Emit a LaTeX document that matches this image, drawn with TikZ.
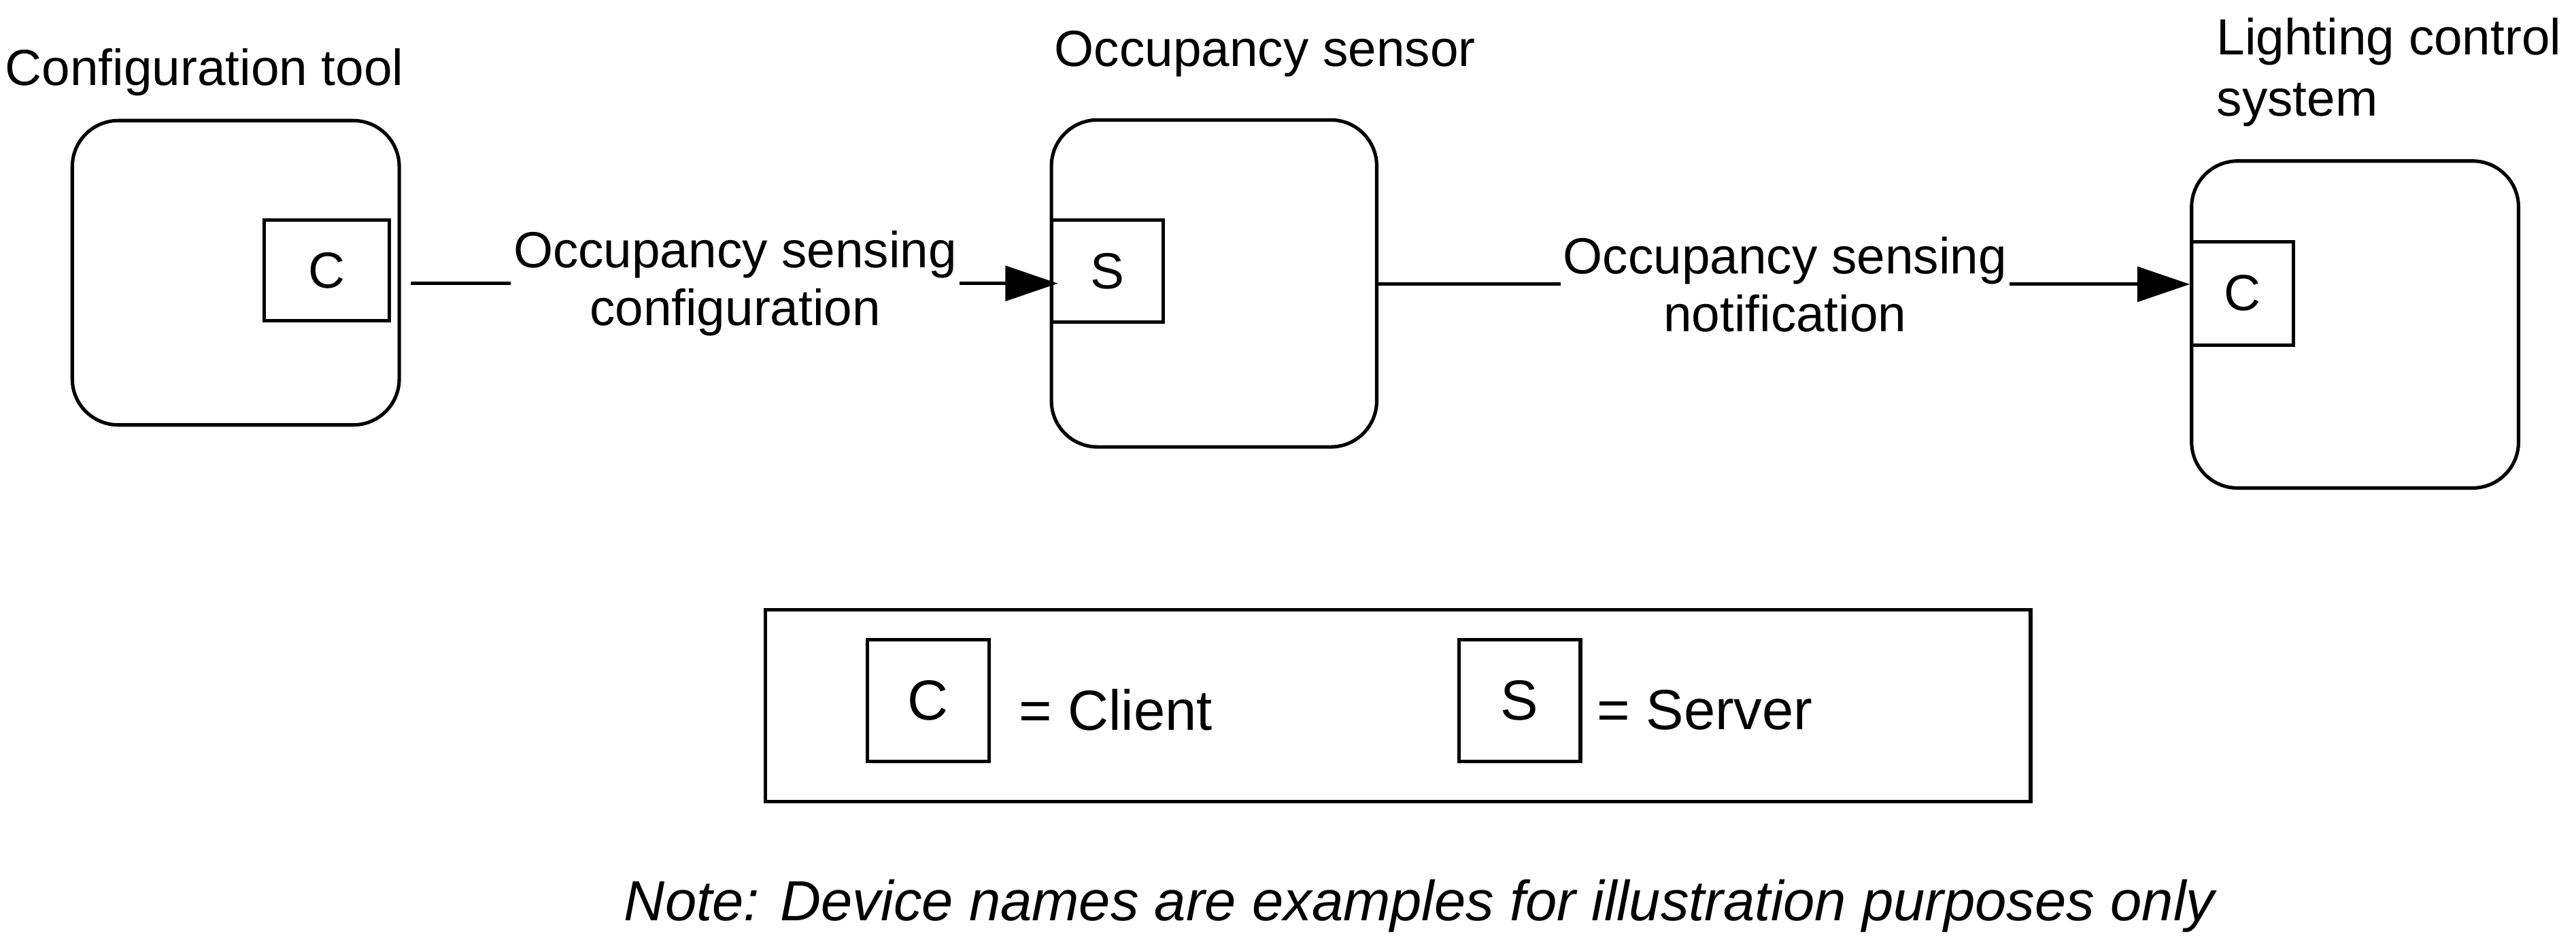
\documentclass[tikz,border=0pt]{standalone}
\usepackage{fontspec}
\setmainfont{Liberation Sans}
\usetikzlibrary{arrows.meta}

\tikzset{
  device/.style={draw, line width=1.5pt, rounded corners=0.7cm, inner sep=0pt},
  port/.style={draw, line width=1.5pt, inner sep=0pt},
  link/.style={line width=1.5pt},
  linkarrow/.style={line width=1.5pt, -{Triangle[length=0.8cm, width=0.53cm]}},
  flowlabel/.style={align=center, inner sep=1pt},
  legendtext/.style={font=\fontsize{24.5}{28}\selectfont},
}

\begin{document}
\begin{tikzpicture}[font=\fontsize{22}{25}\selectfont]
\useasboundingbox (0,0) rectangle (39.2,14.3);
\def\ly{9.9875} % Hoehe der Verbindungslinien

% =========================================================
% Geraete
% =========================================================
\node[device, minimum width=4.975cm, minimum height=4.63cm] (tool) at (3.5875,10.15) {};
\node[port, minimum width=1.9cm, minimum height=1.525cm] (toolc) at (4.975,10.1875) {C};
\node[anchor=west, inner sep=0pt] (tooltitle) at (0.075,13.2) {Configuration tool};

\node[device, minimum width=4.95cm, minimum height=4.975cm] (sensor) at (18.475,9.9875) {};
\node[port, minimum width=1.7cm, minimum height=1.55cm] (sensors) at (16.85,10.175) {S};
\node[inner sep=0pt] (sensortitle) at (19.25,13.48) {Occupancy sensor};

\node[device, minimum width=4.975cm, minimum height=4.975cm] (lcs) at (35.8375,9.3625) {};
\node[port, minimum width=1.55cm, minimum height=1.575cm] (lcsc) at (34.125,9.8375) {C};
\node[anchor=west, align=left, inner sep=0pt, font=\fontsize{22}{26.5}\selectfont] (lcstitle) at (33.725,13.2) {Lighting control\\system};

% =========================================================
% Verbindungen
% =========================================================
\node[flowlabel] (cfglabel) at (11.1875,\ly) {Occupancy sensing\\configuration};
\draw[link] ([xshift=0.15cm]tool.east |- cfglabel) -- (cfglabel.west);
\draw[linkarrow] (cfglabel.east) -- ([xshift=0.125cm]sensors.west |- cfglabel);

\node[flowlabel] (notlabel) at (27.1625,9.975) {Occupancy sensing\\notification};
\draw[link] (sensor.east |- notlabel) -- (notlabel.west);
\draw[linkarrow] (notlabel.east) -- (lcsc.west |- notlabel);

% =========================================================
% Legende
% =========================================================
\node[draw, line width=1.5pt, minimum width=19.25cm, minimum height=2.925cm] (legend) at (21.275,3.5625) {};
\node[port, legendtext, minimum size=1.85cm] (legc) at (14.125,3.6375) {C};
\node[legendtext, anchor=west, inner sep=0pt] (legctext) at (15.5,3.5) {= Client};
\node[port, legendtext, minimum size=1.85cm] (legs) at (23.125,3.6375) {S};
\node[legendtext, anchor=west, inner sep=0pt] (legstext) at (24.3,3.5) {= Server};

\node[font=\fontsize{24.5}{28}\selectfont\itshape] (note) at (21.6,0.52)
  {Note: Device names are examples for illustration purposes only};

\end{tikzpicture}
\end{document}
